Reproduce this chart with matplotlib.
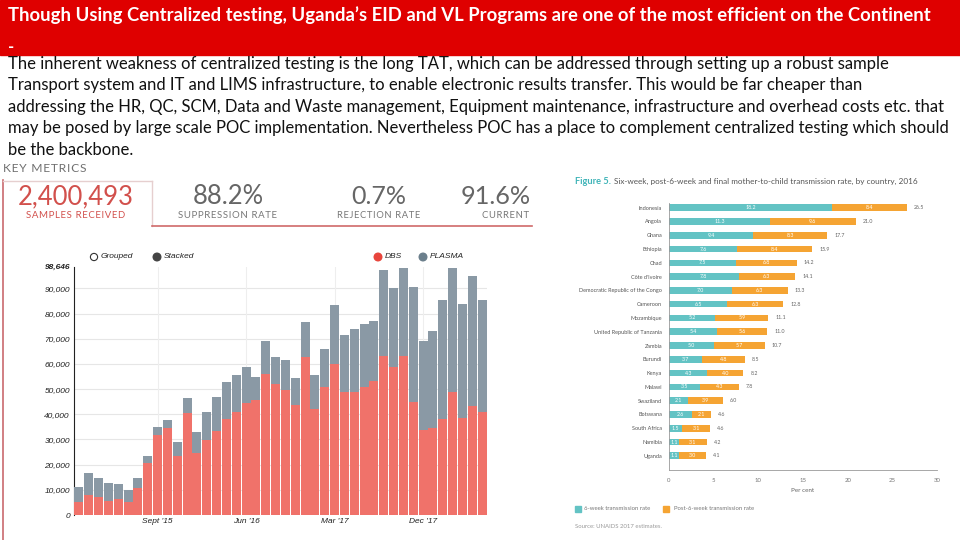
import matplotlib
matplotlib.use('Agg')
import matplotlib.pyplot as plt
from matplotlib.patches import Rectangle, Circle
import numpy as np

# ---------------- data ----------------
title_text = "Though Using Centralized testing, Uganda\u2019s EID and VL Programs are one of the most efficient on the Continent"
body_lines = [
    "The inherent weakness of centralized testing is the long TAT, which can be addressed through setting up a robust sample",
    "Transport system and IT and LIMS infrastructure, to enable electronic results transfer. This would be far cheaper than",
    "addressing the HR, QC, SCM, Data and Waste management, Equipment maintenance, infrastructure and overhead costs etc. that",
    "may be posed by large scale POC implementation. Nevertheless POC has a place to complement centralized testing which should",
    "be the backbone.",
]

metric_values = ["2,400,493", "88.2%", "0.7%", "91.6%"]
metric_labels = ["SAMPLES RECEIVED", "SUPPRESSION RATE", "REJECTION RATE", "CURRENT"]

mon = ["Jan", "Feb", "Mar", "Apr", "May", "Jun", "Jul", "Aug", "Sept", "Oct", "Nov", "Dec"]
months = [f"{m} '{y}" for y in (15, 16, 17, 18) for m in mon][:42]
dbs = [5000, 7900, 7000, 5700, 6500, 5300, 10700, 20500, 31800, 34700,
       23600, 40600, 24500, 29800, 33500, 38200, 40900, 44600, 45500, 56000,
       52000, 49500, 43900, 62600, 42200, 51000, 59800, 49000, 49000, 51000,
       53300, 63100, 58900, 63100, 44700, 33700, 34700, 38200, 49000, 38500,
       43300, 41000]
plasma = [6250, 8800, 7700, 7000, 5800, 4600, 3900, 2800, 3300, 3000,
          5300, 5900, 8300, 11100, 13200, 14600, 14900, 14300, 9300, 13200,
          10600, 12000, 10600, 14000, 13600, 14900, 23800, 22500, 24800, 24800,
          23600, 34200, 31200, 35200, 45800, 35500, 38500, 47400, 49300, 45500,
          51600, 44400]
y_max_label = 98646
x_tick_labels = ["Sept '15", "Jun '16", "Mar '17", "Dec '17"]

countries = ["Indonesia", "Angola", "Ghana", "Ethiopia", "Chad", "C\u00f4te d'Ivoire",
             "Democratic Republic of the Congo", "Cameroon", "Mozambique",
             "United Republic of Tanzania", "Zambia", "Burundi", "Kenya", "Malawi",
             "Swaziland", "Botswana", "South Africa", "Namibia", "Uganda"]
six_week = [18.2, 11.3, 9.4, 7.6, 7.5, 7.8, 7.0, 6.5, 5.2, 5.4, 5.0, 3.7, 4.3, 3.5, 2.1, 2.6, 1.5, 1.1, 1.1]
post_six = [8.4, 9.6, 8.3, 8.4, 6.8, 6.3, 6.3, 6.3, 5.9, 5.6, 5.7, 4.8, 4.0, 4.3, 3.9, 2.1, 3.1, 3.1, 3.0]
final_rate = [26.5, 21.0, 17.7, 15.9, 14.2, 14.1, 13.3, 12.8, 11.1, 11.0, 10.7, 8.5, 8.2, 7.8, 6.0, 4.6, 4.6, 4.2, 4.1]
pct_ticks = [0, 5, 10, 15, 20, 25, 30]

# ---------------- colours ----------------
RED_BAR = "#DF0000"
DBS_C = "#F0726A"
PLA_C = "#8A99A5"
TEAL = "#63C3C4"
ORANGE = "#F5A433"
MET_RED = "#D2504C"

W, H = 960, 540
fig = plt.figure(figsize=(W / 100, H / 100), dpi=100)
fig.patch.set_facecolor("white")
bg = fig.add_axes([0, 0, 1, 1])
bg.set_xlim(0, W)
bg.set_ylim(H, 0)
bg.axis("off")
renderer = fig.canvas.get_renderer()


def ftext(x, y, s, width=None, size=10, ha="left", va="baseline", ax=None, **kw):
    ax = ax or bg
    t = ax.text(x, y, s, fontsize=size, ha=ha, va=va, **kw)
    if width:
        w = t.get_window_extent(renderer).width
        t.set_fontsize(size * width / w)
    return t


def spaced(s):
    return "\u200a".join(s)


LATO = ["Lato", "DejaVu Sans"]

# ---------------- title bar & body ----------------
bg.add_patch(Rectangle((0, 0), W, 55, color=RED_BAR, zorder=0))
ftext(8, 21, title_text, width=919, size=13, family=LATO, weight="bold", color="white")
ftext(8, 52, "-", size=12, family=LATO, weight="bold", color="white")

body_base = [68.5, 90, 111.7, 133.3, 155]
body_ends = [889, 863, 946, 946, 133]
for s, yb, xe in zip(body_lines, body_base, body_ends):
    ftext(8, yb, s, width=xe - 8, size=11, family=LATO, color="#111111")

# ---------------- dashboard panel ----------------
ftext(3, 169, spaced("KEY METRICS"), width=83, size=7, va="center",
      family=LATO, color="#6F6F6F")
bg.plot([3, 3], [180, 540], color="#C96A6E", lw=1.2)
bg.plot([3, 152], [180.5, 180.5], color="#E6CFCF", lw=1)
bg.plot([152, 152], [180.5, 226], color="#E6CFCF", lw=1)
bg.plot([152, 532], [226, 226], color="#D06A6A", lw=1.2)

ftext(76, 197, metric_values[0], width=116, size=17, ha="center", va="center",
      family=LATO, color=MET_RED)
ftext(76, 215, spaced(metric_labels[0]), width=99, size=5.5, ha="center", va="center",
      family=LATO, color=MET_RED)
centers = [228, 379]
widths_v = [71, 55]
widths_l = [99, 83]
for i, cx in enumerate(centers):
    ftext(cx, 197, metric_values[i + 1], width=widths_v[i], size=15, ha="center", va="center",
          family=LATO, color="#666666")
    ftext(cx, 215, spaced(metric_labels[i + 1]), width=widths_l[i], size=5.5, ha="center", va="center",
          family=LATO, color="#777777")
ftext(531, 197, metric_values[3], width=70, size=15, ha="right", va="center", family=LATO,
      color="#666666")
ftext(529, 215, spaced(metric_labels[3]), width=47, size=5.5, ha="right", va="center", family=LATO,
      color="#777777")

# legends of the dashboard chart
bg.add_patch(Circle((94, 257), 3.6, facecolor="white", edgecolor="#333333", lw=0.8))
ftext(101, 257, "Grouped", size=6, va="center", family="Liberation Sans", style="italic", color="#222222")
bg.add_patch(Circle((157, 257), 3.8, facecolor="#444444", edgecolor="#444444"))
ftext(164, 257, "Stacked", size=6, va="center", family="Liberation Sans", style="italic", color="#222222")
bg.add_patch(Circle((378, 257), 3.8, facecolor="#E8453C", edgecolor="#E8453C"))
ftext(385, 257, "DBS", size=6, va="center", family="Liberation Sans", style="italic", color="#222222")
bg.add_patch(Circle((423, 257), 3.8, facecolor="#6B7F8C", edgecolor="#6B7F8C"))
ftext(430, 257, "PLASMA", size=6, va="center", family="Liberation Sans", style="italic", color="#222222")

# ---------------- stacked bar chart ----------------
x0, x1, yt, yb = 74, 487, 266.7, 515
ax = fig.add_axes([x0 / W, (H - yb) / H, (x1 - x0) / W, (yb - yt) / H])
ax.set_facecolor("none")
xs = np.arange(len(months))
ax.bar(xs, dbs, width=0.9, color=DBS_C, zorder=3, linewidth=0)
ax.bar(xs, plasma, bottom=dbs, width=0.9, color=PLA_C, zorder=3, linewidth=0)
ax.set_xlim(-0.5, len(months) - 0.5)
ax.set_ylim(0, y_max_label)
yt_vals = list(range(0, 100000, 10000))
for v in yt_vals[1:]:
    ax.axhline(v, color="#E6E6E6", lw=0.8, zorder=1)
tick_idx = [months.index(l) for l in x_tick_labels]
for i in tick_idx:
    ax.axvline(i, color="#EEEEEE", lw=0.8, zorder=1)
ax.set_yticks(yt_vals + [y_max_label])
ax.set_yticklabels([f"{v:,}" for v in yt_vals] + [f"{y_max_label:,}"],
                   family="Liberation Sans", style="italic", fontsize=6, color="#222222")
ax.get_yticklabels()[-1].set_weight("bold")
ax.set_xticks(tick_idx)
ax.set_xticklabels(x_tick_labels, family="Liberation Sans", style="italic", fontsize=6, color="#222222")
ax.tick_params(axis="both", length=0, pad=3)
ax.tick_params(axis="x", pad=2)
for s in ["top", "right", "bottom"]:
    ax.spines[s].set_visible(False)
ax.spines["left"].set_color("#222222")
ax.spines["left"].set_linewidth(0.8)

# ---------------- horizontal bar chart ----------------
rx0, rx1, ryt, ryb = 669, 937, 203, 470
ax2 = fig.add_axes([rx0 / W, (H - ryb) / H, (rx1 - rx0) / W, (ryb - ryt) / H])
ax2.set_facecolor("none")
ys = np.arange(len(countries))
ax2.barh(ys, six_week, height=0.48, color=TEAL, linewidth=0)
ax2.barh(ys, post_six, left=six_week, height=0.48, color=ORANGE, linewidth=0)
ax2.set_xlim(0, 30)
ax2.set_ylim(19.03, -0.34)
for i in ys:
    ax2.text(six_week[i] / 2, i, f"{six_week[i]:.1f}", ha="center", va="center",
             fontsize=3.8, color="white", family=LATO)
    ax2.text(six_week[i] + post_six[i] / 2, i, f"{post_six[i]:.1f}", ha="center", va="center",
             fontsize=3.8, color="white", family=LATO)
    ax2.text(six_week[i] + post_six[i] + 0.8, i, f"{final_rate[i]:.1f}", ha="left", va="center",
             fontsize=3.8, color="#666666", family=LATO)
ax2.set_yticks(ys)
ax2.set_yticklabels(countries, fontsize=4, color="#555555", family=LATO)
ax2.set_xticks(pct_ticks)
ax2.set_xticklabels([str(t) for t in pct_ticks], fontsize=4.3, color="#777777", family=LATO)
ax2.tick_params(axis="both", length=0, pad=5)
ax2.tick_params(axis="x", pad=6)
for s in ["top", "right"]:
    ax2.spines[s].set_visible(False)
for s in ["left", "bottom"]:
    ax2.spines[s].set_color("#999999")
    ax2.spines[s].set_linewidth(0.6)

ftext(803, 491, "Per cent", size=4.5, ha="center", va="center", family=LATO, color="#666666")
ftext(575, 181, "Figure 5.", width=36, size=6, va="center", family=LATO, weight="bold", color="#3FB4B8")
ftext(614, 181, "Six-week, post-6-week and final mother-to-child transmission rate, by country, 2016",
      width=304, size=6, va="center", family=LATO, color="#555555")

bg.add_patch(Rectangle((575, 506), 6, 6, color=TEAL))
ftext(584, 509, "6-week transmission rate", size=4.3, va="center", family=LATO, color="#777777")
bg.add_patch(Rectangle((663, 506), 6, 6, color=ORANGE))
ftext(674, 509, "Post-6-week transmission rate", size=4.3, va="center", family=LATO, color="#777777")
ftext(575, 527, "Source: UNAIDS 2017 estimates.", size=4.3, va="center", family=LATO, color="#999999")

fig.savefig("out.png", dpi=100)
